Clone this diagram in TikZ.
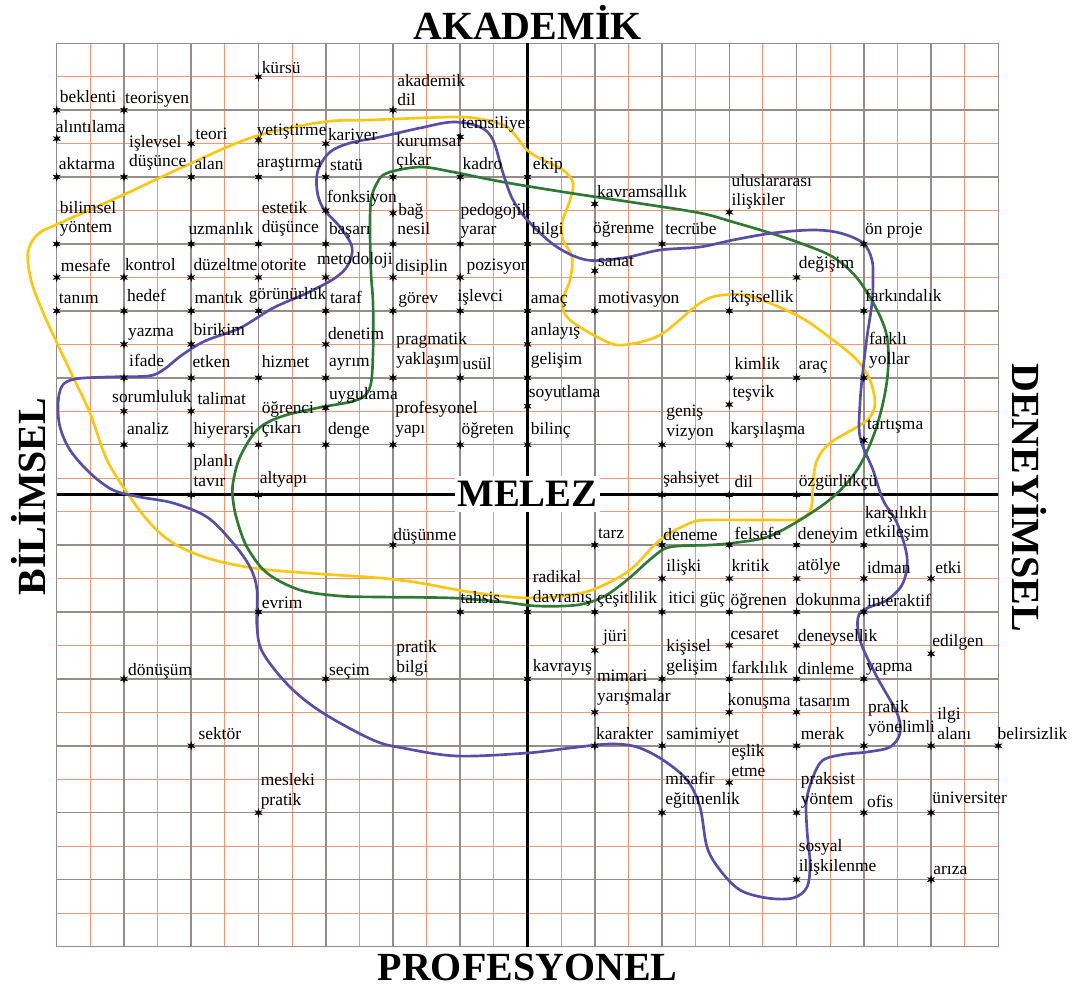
\documentclass[tikz,border=0pt]{standalone}
\usepackage{fontspec}
\setmainfont{Liberation Serif}
\usetikzlibrary{shapes.geometric}

\definecolor{gridgray}{RGB}{150,140,140}
\definecolor{gridorange}{RGB}{243,150,120}
\definecolor{curveyellow}{RGB}{250,200,20}
\definecolor{curveblue}{RGB}{88,78,168}
\definecolor{curvegreen}{RGB}{46,122,52}

\begin{document}
\begin{tikzpicture}[x=0.025cm, y=-0.025cm,
    mystar/.style={star, star points=6, star point ratio=2.6, fill=black, draw=black, line width=0.3pt, inner sep=0pt, minimum size=5.5pt},
    myword/.style={anchor=south west, inner sep=0pt, yshift=-4.2pt, align=left, font=\fontsize{12.4}{14}\selectfont, execute at end node=\strut},
    mytitle/.style={font=\fontsize{28.4}{30}\selectfont\bfseries, inner sep=0pt},
    myorange/.style={gridorange, line width=0.7pt},
    mygray/.style={gridgray, line width=1.1pt},
    myaxis/.style={black, line width=2.2pt},
    mycurve/.style={line width=1.9pt}]
    \useasboundingbox (0,0) rectangle (1078,989);

    % Definir cuadricula
    \foreach \cc in {1,3,...,27}
        \draw[myorange] ({56.7+33.63*\cc},43.3) -- ({56.7+33.63*\cc},946.5);
    \foreach \rr in {1,3,...,13}
        \draw[myorange] (56.7,{43.3+33.45*\rr}) -- (998.3,{43.3+33.45*\rr});
    \foreach \rr in {14,16,...,26}
        \draw[myorange] (56.7,{43.3+33.45*\rr}) -- (998.3,{43.3+33.45*\rr});
    \foreach \cc in {0,2,...,28}
        \draw[mygray] ({56.7+33.63*\cc},43.3) -- ({56.7+33.63*\cc},946.5);
    \foreach \rr in {0,2,...,12}
        \draw[mygray] (56.7,{43.3+33.45*\rr}) -- (998.3,{43.3+33.45*\rr});
    \foreach \rr in {15,17,...,27}
        \draw[mygray] (56.7,{43.3+33.45*\rr}) -- (998.3,{43.3+33.45*\rr});

    % Dibujar ejes
    \draw[myaxis] (527.5,43.3) -- (527.5,946.5);
    \draw[myaxis] (56.7,494.9) -- (998.3,494.9);

    % Dibujar curvas
    \draw[mycurve, curveyellow] plot[smooth cycle, tension=0.55] coordinates {
        (42,310) (57,343) (73,377) (90,413) (107,460) (130,497) (150,523) (173,543)
        (207,558) (253,568) (307,573) (380,578) (420,583) (470,592) (527,598) (570,595)
        (597,588) (630,570) (660,540) (690,523) (710,520) (767,520) (800,519) (811,508)
        (813,483) (817,460) (830,443) (857,427) (870,417) (875,403) (870,380) (857,360)
        (833,340) (800,317) (753,297) (723,295) (700,303) (660,335) (623,345) (603,340)
        (570,320) (562,303) (570,280) (572,257) (563,240) (562,223) (570,200) (573,183)
        (563,170) (543,160) (527,150) (507,127) (480,119) (453,117) (370,120) (323,122)
        (253,137) (183,167) (123,195) (60,223) (38,234) (28,252) (31,280)};
    \draw[mycurve, curvegreen] plot[smooth cycle, tension=0.55] coordinates {
        (371,200) (377,183) (387,173) (420,167) (453,172) (503,182) (570,193) (637,203)
        (700,213) (733,222) (767,232) (800,243) (833,257) (857,278) (877,310) (887,337)
        (888,370) (883,403) (873,437) (857,470) (833,497) (800,520) (767,537) (733,543)
        (710,545) (670,547) (653,557) (627,580) (603,597) (577,605) (537,606) (503,602)
        (453,598) (380,597) (340,596) (300,590) (267,573) (247,547) (237,520) (233,500)
        (233,483) (240,457) (257,430) (280,417) (317,408) (357,400) (370,387) (373,353)
        (373,303) (371,273) (370,230)};
    \draw[mycurve, curveblue] plot[smooth cycle, tension=0.55] coordinates {
        (380,137) (350,143) (330,152) (318,170) (317,190) (323,208) (340,227) (352,247)
        (348,265) (335,278) (307,293) (273,308) (240,328) (205,341) (182,355) (163,370)
        (148,376) (107,377) (75,379) (62,386) (58,404) (60,427) (70,450) (90,473)
        (113,490) (140,497) (173,503) (207,517) (233,543) (250,567) (257,590) (257,627)
        (263,653) (290,687) (323,713) (373,740) (403,748) (457,756) (527,753) (570,748)
        (610,744) (637,747) (663,760) (687,780) (700,807) (707,847) (720,870) (740,890)
        (767,898) (793,898) (807,887) (810,863) (807,830) (807,797) (820,763) (840,755)
        (867,752) (890,747) (900,733) (897,713) (877,677) (860,640) (860,613) (887,600)
        (903,583) (907,557) (897,523) (883,500) (873,470) (860,437) (860,403) (863,370)
        (867,337) (872,303) (873,280) (872,260) (863,243) (840,233) (813,230) (773,233)
        (733,240) (700,247) (660,250) (623,258) (587,260) (557,247) (530,223) (513,200)
        (503,173) (493,140) (480,127) (453,122) (420,128)};

    % Definir nodos
    \foreach \nm/\cc/\rr/\dx/\dy/\txt in {
        kursu/6/1/3/-3/{kürsü},
        beklenti/0/2/3/-7/{beklenti},
        teorisyen/2/2/1/-6/{teorisyen},
        alintilama/0/2.85/-1/-6/{alıntılama},
        islevsel/2/4/5/-10/{işlevsel\\düşünce},
        teori/4/3/4/-4/{teori},
        yetistirme/6/2.9/-2/-5/{yetiştirme},
        kariyer/8/3/2/-3/{kariyer},
        aktarma/0/4/2/-7/{aktarma},
        alan/4/4/3/-7/{alan},
        arastirma/6/4/-2/-9/{araştırma},
        statu/8/4/4/-6/{statü},
        bilimsel/0/6/3/-11/{bilimsel\\yöntem},
        uzmanlik/4/6/-3/-9/{uzmanlık},
        estetik/6/6/3/-11/{estetik\\düşünce},
        fonksiyon/8/5/1/-8/{fonksiyon},
        basari/8/6/3/-9/{başarı},
        mesafe/0/7/4/-6/{mesafe},
        kontrol/2/7/1/-7/{kontrol},
        duzeltme/4/7/2/-7/{düzeltme},
        otorite/6/7/2/-7/{otorite},
        metodoloji/8/7/-9/-13/{metodoloji},
        akademikdil/10/2/4/-4/{akademik\\dil},
        temsiliyet/12/2.8/1/-8/{temsiliyet},
        kurumsal/10/4/3/-11/{kurumsal\\çıkar},
        kadro/12/4/2/-7/{kadro},
        ekip/14/4/5/-7/{ekip},
        kavramsallik/16/4.8/2/-6/{kavramsallık},
        bag/10/5.08/5/3/{bağ},
        nesil/10/6/4/-9/{nesil},
        pedogojik/12/6/0/-9/{pedogojik\\yarar},
        bilgi/14/6/4/-9/{bilgi},
        ogrenme/16/6/-2/-10/{öğrenme},
        tecrube/18/6/3/-9/{tecrübe},
        disiplin/10/7/2/-6/{disiplin},
        pozisyon/12/7/6/-7/{pozisyon},
        sanat/16/6.8/3/-4/{sanat},
        uluslararasi/20/5.05/2/-6/{uluslararası\\ilişkiler},
        onproje/24/6/1/-9/{ön proje},
        degisim/22/7/2/-9/{değişim},
        tanim/0/8/2/-7/{tanım},
        hedef/2/8/3/-9/{hedef},
        mantik/4/8/3/-7/{mantık},
        gorunurluk/6/8/-10/-11/{görünürlük},
        taraf/8/8/4/-7/{taraf},
        gorev/10/8/5/-7/{görev},
        islevci/12/8/-3/-9/{işlevci},
        amac/14/8/3/-7/{amaç},
        motivasyon/16/8/3/-7/{motivasyon},
        kisisellik/20/8/1/-8/{kişisellik},
        farkindalik/24/8/1/-9/{farkındalık},
        yazma/2/9/4/-8/{yazma},
        birikim/4/9/2/-9/{birikim},
        denetim/8/9/2/-5/{denetim},
        anlayis/14/9/3/-9/{anlayış},
        ifade/2/10/5/-11/{ifade},
        etken/4/10/1/-10/{etken},
        hizmet/6/10/3/-10/{hizmet},
        ayrim/8/10/3/-11/{ayrım},
        pragmatik/10/10/3/-13/{pragmatik\\yaklaşım},
        usul/12/10/2/-8/{usül},
        gelisim/14/10/3/-13/{gelişim},
        kimlik/20/10/5/-8/{kimlik},
        arac/22/10/2/-8/{araç},
        farkli/24/10/5/-13/{farklı\\yollar},
        sorumluluk/2/11/-12/-8/{sorumluluk},
        talimat/4/11/6/-6/{talimat},
        uygulama/8/10.9/3/-8/{uygulama},
        soyutlama/14/10.85/1/-8/{soyutlama},
        tesvik/20/10.8/3/-7/{teşvik},
        ogrenci/6/12/3/-11/{öğrenci\\çıkarı},
        analiz/2/12/3/-10/{analiz},
        hiyerarsi/4/12/2/-10/{hiyerarşi},
        denge/8/12/2/-10/{denge},
        profesyonel/10/12/2/-11/{profesyonel\\yapı},
        ogreten/12/12/1/-10/{öğreten},
        bilinc/14/12/3/-10/{bilinç},
        genis/18/12/4/-8/{geniş\\vizyon},
        karsilasma/20/12/1/-10/{karşılaşma},
        tartisma/24/11.87/3/-11/{tartışma},
        planli/4/13.5/2/-8/{planlı\\tavır},
        altyapi/6/13.5/1/-11/{altyapı},
        sahsiyet/18/13.5/1/-11/{şahsiyet},
        dil/20/13.5/5/-7/{dil},
        ozgurlukcu/22/13.5/2/-8/{özgürlükçü},
        dusunme/10/15/0/-4/{düşünme},
        tarz/16/15/3/-6/{tarz},
        deneme/18/15/1/-4/{deneme},
        felsefe/20/15/5/-5/{felsefe},
        deneyim/22/15/1/-5/{deneyim},
        karsilikli/24/15/1/-7/{karşılıklı\\etkileşim},
        iliski/18/16/4/-7/{ilişki},
        kritik/20/16/2/-7/{kritik},
        atolye/22/16/1/-8/{atölye},
        idman/24/16/3/-5/{idman},
        etki/26/16/4/-5/{etki},
        evrim/6/17/3/-3/{evrim},
        tahsis/12/17/0/-8/{tahsis},
        radikal/14/17/5/-9/{radikal\\davranış},
        cesitlilik/16/17/2/-8/{çeşitlilik},
        itici/18/17/6/-8/{itici güç},
        ogrenen/20/17/1/-6/{öğrenen},
        dokunma/22/17/-1/-6/{dokunma},
        interaktif/24/17/3/-5/{interaktif},
        juri/16/18.15/8/-9/{jüri},
        cesaret/20/18/1/-6/{cesaret},
        deneysellik/22/18/1/-4/{deneysellik},
        edilgen/26/18.25/1/-7/{edilgen},
        donusum/2/19/4/-3/{dönüşüm},
        secim/8/19/3/-3/{seçim},
        pratikbilgi/10/19/3/-6/{pratik\\bilgi},
        kavrayis/14/19/5/-7/{kavrayış},
        kisisel/18/19/4/-7/{kişisel\\gelişim},
        farklilik/20/19/2/-5/{farklılık},
        dinleme/22/19/1/-4/{dinleme},
        yapma/24/19/2/-7/{yapma},
        mimari/16/20/2/-11/{mimari\\yarışmalar},
        konusma/20/20/-2/-7/{konuşma},
        tasarim/22/20/2/-6/{tasarım},
        sektor/4/21/7/-6/{sektör},
        karakter/16/21/1/-6/{karakter},
        samimiyet/18/21/4/-6/{samimiyet},
        merak/22/21/4/-6/{merak},
        pratikyon/24/21/4/-13/{pratik\\yönelimli},
        ilgi/26/21/6/-6/{ilgi\\alanı},
        belirsizlik/28/21/-1/-6/{belirsizlik},
        eslik/20/22.1/2/-6/{eşlik\\etme},
        mesleki/6/23/2/-7/{mesleki\\pratik},
        misafir/18/23/3/-8/{misafir\\eğitmenlik},
        praksist/22/23/4/-8/{praksist\\yöntem},
        ofis/24/23/3/-5/{ofis},
        universiter/26/23/1/-9/{üniversiter},
        sosyal/22/25/2/-8/{sosyal\\ilişkilenme},
        ariza/26/25/2/-5/{arıza}} {
        \node[mystar] (\nm) at ({56.7+33.63*\cc},{43.3+33.45*\rr}) {};
        \node[myword] (\nm-t) at ([shift={(\dx,\dy)}]\nm.center) {\txt};
    }

    % Titulos
    \node[mytitle, anchor=base] (akademik-baslik) at (527.5,39) {AKADEMİK};
    \node[mytitle, anchor=base] (profesyonel-baslik) at (527.5,980) {PROFESYONEL};
    \node[mytitle, anchor=base, rotate=90] (bilimsel-baslik) at (46,496.5) {BİLİMSEL};
    \node[mytitle, anchor=base, rotate=-90] (deneyimsel-baslik) at (1012,497.5) {DENEYİMSEL};
    \node[mytitle, font=\fontsize{27.6}{30}\selectfont\bfseries, fill=white, minimum width=3.6cm, minimum height=0.92cm] (melez) at (527.5,494) {MELEZ};
\end{tikzpicture}
\end{document}
